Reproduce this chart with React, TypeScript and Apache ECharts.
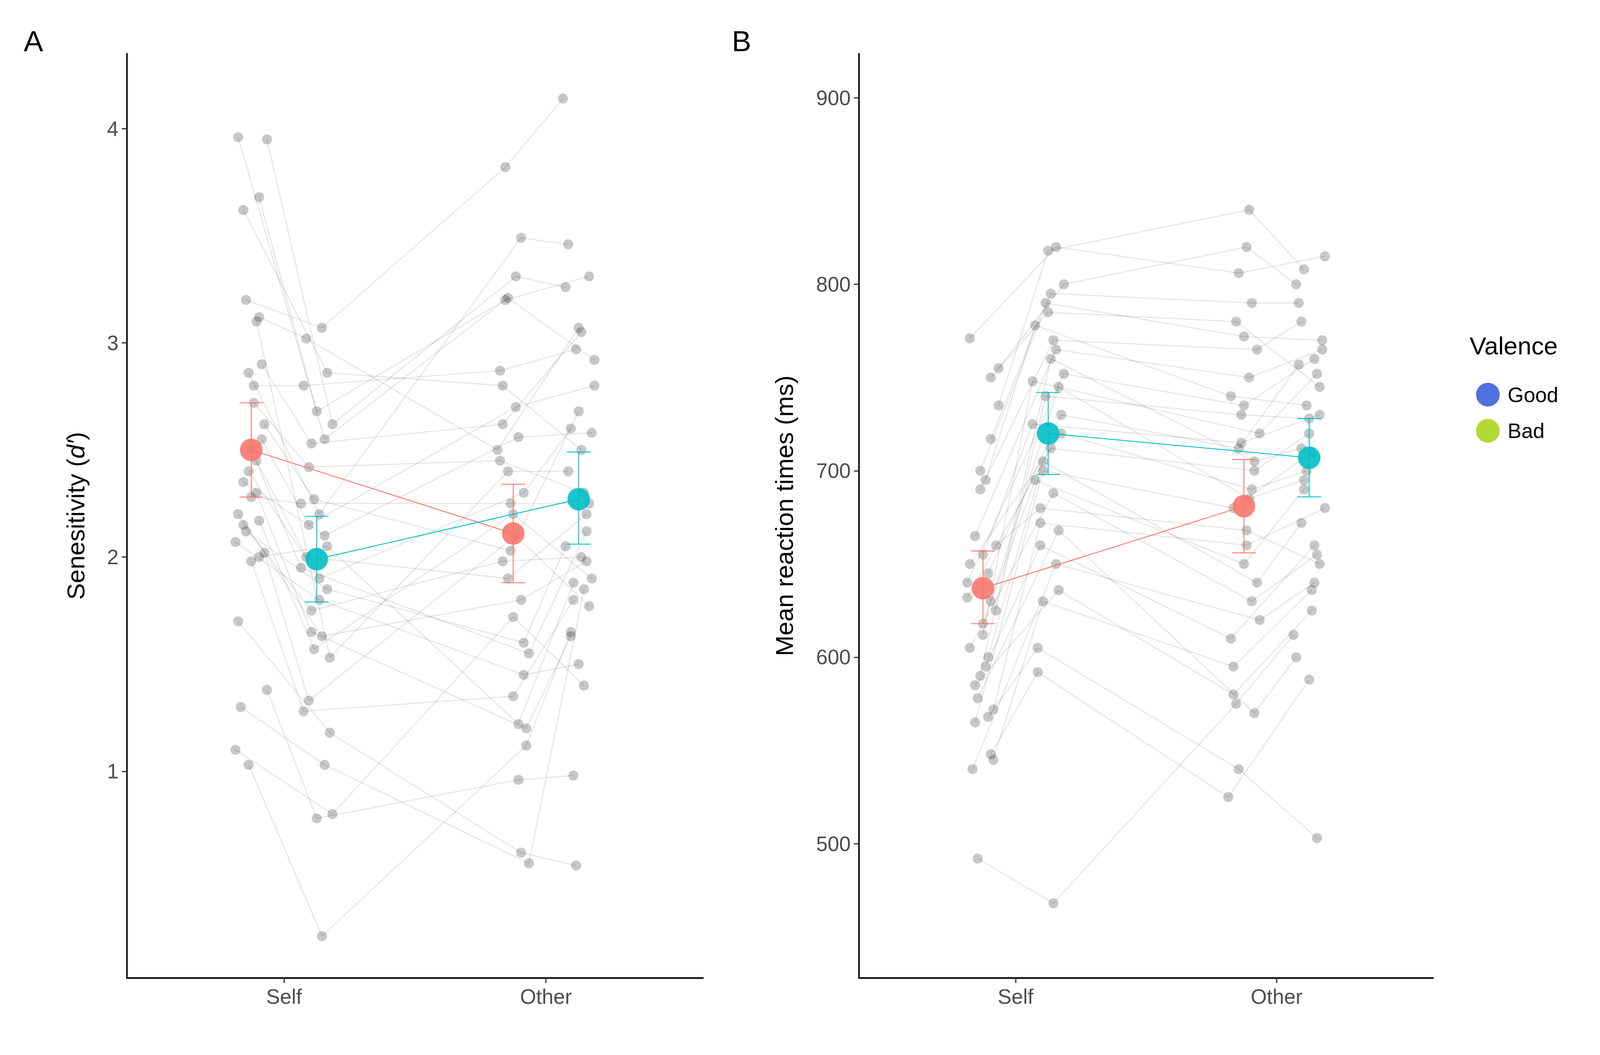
import * as echarts from 'echarts'
import { useEffect, useRef } from 'react'

const conditions = ['Self', 'Other']
const valences = ['Good', 'Bad']
const colors = { Good: '#F8766D', Bad: '#00BFC4' }

// per-subject values, panel A (d')
const dSelfGood = [3.96, 2.3, 1.1, 3.12, 2.86, 2.02, 3.62, 1.38, 2.5, 3.2, 2.17, 1.7, 2.72, 3.95, 2.07, 2.45, 1.03, 2.9, 2.35, 1.98, 3.68, 2.12, 2.62, 1.3, 2.8, 2.2, 3.1, 2.55, 2.4, 2.15, 2.0, 2.28]
const dSelfBad = [2.55, 1.65, 0.8, 3.02, 2.2, 1.33, 2.86, 0.78, 1.95, 3.07, 1.57, 1.18, 2.42, 2.62, 1.8, 2.0, 0.23, 2.53, 2.1, 1.28, 2.68, 1.85, 2.27, 1.03, 2.8, 1.63, 1.53, 2.15, 1.9, 1.75, 2.05, 2.25]
const dOtherGood = [3.21, 1.2, 1.72, 2.5, 3.49, 2.1, 2.8, 0.96, 1.55, 3.82, 2.2, 0.62, 2.45, 3.31, 1.45, 1.9, 1.12, 2.62, 2.56, 1.35, 3.2, 1.6, 2.03, 0.57, 2.87, 1.8, 2.4, 2.7, 2.3, 1.98, 1.22, 2.25]
const dOtherBad = [2.92, 1.63, 1.4, 3.07, 3.46, 1.77, 2.5, 0.98, 2.12, 4.14, 1.9, 0.56, 2.3, 3.26, 1.5, 2.2, 1.65, 3.05, 2.58, 1.8, 3.31, 2.05, 2.68, 1.85, 2.97, 1.98, 2.4, 2.8, 2.6, 2.0, 1.88, 2.25]

// per-subject values, panel B (ms)
const rtSelfGood = [771, 600, 640, 548, 700, 660, 585, 735, 612, 492, 717, 650, 595, 755, 632, 568, 690, 545, 665, 618, 750, 578, 625, 540, 695, 605, 645, 572, 590, 565, 630, 655]
const rtSelfBad = [820, 705, 752, 592, 795, 680, 636, 818, 748, 468, 790, 720, 660, 800, 712, 605, 770, 630, 765, 695, 785, 668, 740, 650, 778, 688, 730, 672, 760, 700, 745, 725]
const rtOtherGood = [806, 640, 735, 525, 790, 668, 580, 840, 720, 575, 772, 690, 610, 820, 700, 540, 765, 595, 750, 650, 780, 570, 730, 620, 740, 630, 712, 660, 705, 680, 685, 715]
const rtOtherBad = [815, 672, 760, 588, 790, 650, 625, 808, 752, 612, 770, 700, 660, 800, 720, 503, 780, 636, 765, 690, 745, 600, 728, 640, 735, 655, 757, 680, 712, 710, 695, 730]

// x jitter around each dodge position
const jitterA = [-0.05, 0.02, -0.06, 0.03, -0.01, 0.05, -0.03, 0.06, 0.0, -0.02, 0.03, -0.05, 0.01, 0.06, -0.06, 0.02, -0.01, 0.04, -0.03, 0.0, 0.03, -0.02, 0.05, -0.04, 0.01, -0.05, 0.02, 0.04, -0.01, -0.03, 0.03, 0.0]
const jitterB = [0.03, -0.02, 0.06, -0.04, 0.01, -0.03, 0.04, 0.0, -0.06, 0.02, -0.01, 0.05, -0.03, 0.06, 0.01, -0.04, 0.02, -0.02, 0.03, -0.05, 0.0, 0.04, -0.01, 0.03, -0.05, 0.02, 0.05, -0.03, 0.01, -0.02, 0.04, -0.06]
const jitterC = [-0.02, 0.05, 0.0, -0.06, 0.03, 0.01, -0.04, 0.02, 0.06, -0.03, 0.0, 0.03, -0.05, 0.01, 0.04, -0.02, 0.05, -0.04, 0.02, 0.0, -0.03, 0.04, -0.01, 0.06, -0.05, 0.03, -0.02, 0.01, 0.04, -0.04, 0.02, -0.01]
const jitterD = [0.06, -0.03, 0.02, 0.0, -0.04, 0.04, 0.01, -0.02, 0.03, -0.06, 0.05, -0.01, 0.02, -0.05, 0.0, 0.03, -0.03, 0.01, 0.05, -0.02, 0.04, -0.05, 0.0, 0.02, -0.01, 0.03, -0.04, 0.06, -0.03, 0.01, -0.02, 0.04]

// group means and error bounds: [Self, Other]
const dMeans = { Good: [2.5, 2.11], Bad: [1.99, 2.27] }
const dLow = { Good: [2.28, 1.88], Bad: [1.79, 2.06] }
const dHigh = { Good: [2.72, 2.34], Bad: [2.19, 2.49] }
const rtMeans = { Good: [637, 681], Bad: [720, 707] }
const rtLow = { Good: [618, 656], Bad: [698, 686] }
const rtHigh = { Good: [657, 706], Bad: [742, 728] }

const dTicks = [1, 2, 3, 4]
const rtTicks = [500, 600, 700, 800, 900]

const dodge = { Good: -0.125, Bad: 0.125 }
const labelColor = '#4d4d4d'
const font = 'Liberation Sans'

// scale from 5400px design to actual viewport
let S = 1
const p = (v: number) => v * S

function subjectSeries(gi: number, cols: number[][]) {
  const jit = [jitterA, jitterB, jitterC, jitterD]
  const xs = [1 + dodge.Good, 1 + dodge.Bad, 2 + dodge.Good, 2 + dodge.Bad]
  return cols[0].map((_, s) => ({
    type: 'line',
    xAxisIndex: gi,
    yAxisIndex: gi,
    silent: true,
    data: cols.map((c, k) => [xs[k] + jit[k][s], c[s]]),
    symbol: 'circle',
    symbolSize: p(34),
    itemStyle: { color: 'rgba(0,0,0,0.22)' },
    lineStyle: { color: 'rgba(0,0,0,0.11)', width: p(3.5) },
    z: 1,
  }))
}

function meanSeries(gi: number, means: any, low: any, high: any) {
  const out: any[] = []
  valences.forEach((v) => {
    const color = (colors as any)[v]
    out.push({
      name: v,
      type: 'custom',
      xAxisIndex: gi,
      yAxisIndex: gi,
      silent: true,
      z: 3,
      data: [0, 1].map((c) => [1 + c + (dodge as any)[v], low[v][c], high[v][c]]),
      renderItem: (_p: any, api: any) => {
        const a = api.coord([api.value(0), api.value(1)])
        const b = api.coord([api.value(0), api.value(2)])
        const w = p(40)
        const st = { stroke: color, lineWidth: p(3) }
        return {
          type: 'group',
          children: [
            { type: 'line', shape: { x1: a[0], y1: a[1], x2: b[0], y2: b[1] }, style: st },
            { type: 'line', shape: { x1: a[0] - w, y1: a[1], x2: a[0] + w, y2: a[1] }, style: st },
            { type: 'line', shape: { x1: b[0] - w, y1: b[1], x2: b[0] + w, y2: b[1] }, style: st },
          ],
        }
      },
    })
    out.push({
      name: v,
      type: 'line',
      xAxisIndex: gi,
      yAxisIndex: gi,
      silent: true,
      z: 4,
      data: [0, 1].map((c) => [1 + c + (dodge as any)[v], means[v][c]]),
      symbol: 'circle',
      symbolSize: p(76),
      itemStyle: { color, opacity: 0.9 },
      lineStyle: { color, width: p(3) },
    })
  })
  return out
}

const axisLine = () => ({ show: true, onZero: false, lineStyle: { color: '#000', width: p(5) } })
const axisTick = (vals: number[]) => ({ show: true, length: p(17), customValues: vals, lineStyle: { color: '#333', width: p(4) } })

function xAxis(gi: number) {
  return {
    type: 'value',
    gridIndex: gi,
    min: 0.4,
    max: 2.6,
    axisLine: axisLine(),
    axisTick: axisTick([1, 2]),
    axisLabel: { customValues: [1, 2], formatter: (v: number) => conditions[v - 1], color: labelColor, fontSize: p(70), margin: p(28), fontFamily: font },
    splitLine: { show: false },
  }
}

function yAxis(gi: number, min: number, max: number, ticks: number[], name: string, rich?: any) {
  return {
    type: 'value',
    gridIndex: gi,
    min,
    max,
    name,
    nameLocation: 'middle',
    nameGap: p(gi === 0 ? 130 : 210),
    nameTextStyle: { color: '#000', fontSize: p(84), fontFamily: font, rich },
    axisLine: axisLine(),
    axisTick: axisTick(ticks),
    axisLabel: { customValues: ticks, color: labelColor, fontSize: p(70), margin: p(28), fontFamily: font },
    splitLine: { show: false },
  }
}

export default function App() {
  const ref = useRef<HTMLDivElement>(null)
  useEffect(() => {
    S = window.innerWidth / 5400
    const chart = echarts.init(ref.current!, null, { renderer: 'svg' })
    chart.setOption({
      animation: false,
      backgroundColor: '#fff',
      grid: [
        { left: p(428), right: p(3027), top: p(181), bottom: p(260) },
        { left: p(2899), right: p(563), top: p(181), bottom: p(260) },
      ],
      xAxis: [xAxis(0), xAxis(1)],
      yAxis: [
        yAxis(0, 0.035, 4.35, dTicks, '{a|Senesitivity (}{b|d′}{a|)}', {
          a: { fontSize: p(84), fontFamily: font, color: '#000' },
          b: { fontSize: p(84), fontFamily: font, fontStyle: 'italic', color: '#000' },
        }),
        yAxis(1, 428, 923.7, rtTicks, 'Mean reaction times (ms)'),
      ],
      legend: {
        data: valences,
        orient: 'vertical',
        left: p(4975),
        top: p(1285),
        icon: 'circle',
        itemWidth: p(80),
        itemHeight: p(80),
        itemGap: p(42),
        textStyle: { fontSize: p(70), fontFamily: font, color: '#000', padding: [0, 0, 0, p(20)] },
      },
      graphic: [
        { type: 'text', left: p(4960), top: p(1125), style: { text: 'Valence', fontSize: p(84), fontFamily: font, fill: '#000' } },
        { type: 'text', left: p(80), top: p(90), style: { text: 'A', fontSize: p(98), fontFamily: font, fill: '#000' } },
        { type: 'text', left: p(2470), top: p(90), style: { text: 'B', fontSize: p(98), fontFamily: font, fill: '#000' } },
      ],
      series: [
        ...subjectSeries(0, [dSelfGood, dSelfBad, dOtherGood, dOtherBad]),
        ...subjectSeries(1, [rtSelfGood, rtSelfBad, rtOtherGood, rtOtherBad]),
        ...meanSeries(0, dMeans, dLow, dHigh),
        ...meanSeries(1, rtMeans, rtLow, rtHigh),
      ],
    })
    return () => chart.dispose()
  }, [])
  return <div ref={ref} style={{ position: 'fixed', left: 0, top: 0, width: '100vw', height: '100vh' }} />
}
